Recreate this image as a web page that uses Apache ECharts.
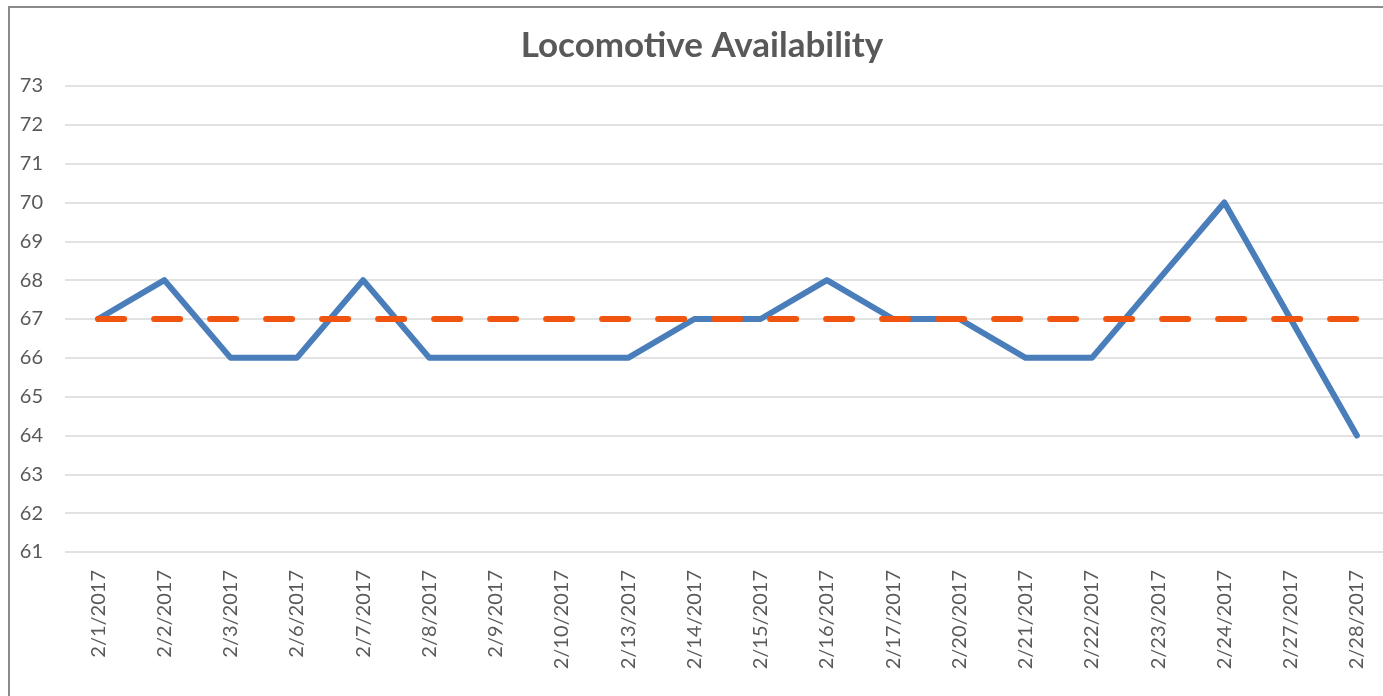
<!DOCTYPE html>
<html>
<head>
<meta charset="utf-8">
<script src="https://cdn.jsdelivr.net/npm/echarts@6/dist/echarts.min.js"></script>
<style>
  html, body { margin: 0; padding: 0; overflow: hidden; background: #fff; }
  #chart { position: absolute; left: 0; top: 0; width: 1400px; height: 696px; }
  #frame { position: absolute; left: 8px; top: 6px; width: 1400px; height: 720px;
           border: 2px solid #8a8a8a; pointer-events: none; }
</style>
</head>
<body>
<div id="chart"></div>
<div id="frame"></div>
<script>
// dates on the x axis
const dates = ['2/1/2017', '2/2/2017', '2/3/2017', '2/6/2017', '2/7/2017', '2/8/2017', '2/9/2017',
  '2/10/2017', '2/13/2017', '2/14/2017', '2/15/2017', '2/16/2017', '2/17/2017', '2/20/2017',
  '2/21/2017', '2/22/2017', '2/23/2017', '2/24/2017', '2/27/2017', '2/28/2017'];
// available locomotives per day
const available = [67, 68, 66, 66, 68, 66, 66, 66, 66, 67, 67, 68, 67, 67, 66, 66, 68, 70, 67, 64];
// target line
const target = [67, 67, 67, 67, 67, 67, 67, 67, 67, 67, 67, 67, 67, 67, 67, 67, 67, 67, 67, 67];

const yMin = 61, yMax = 73;
const textColor = '#595959';
const font = 'Lato, "Open Sans", sans-serif';

let chart = echarts.init(document.getElementById('chart'));
chart.setOption({
  animation: false,
  title: {
    text: 'Locomotive Availability',
    left: 697,
    top: 23,
    textAlign: 'center',
    textStyle: { color: textColor, fontSize: 35, fontWeight: 'bold', fontFamily: font }
  },
  grid: { left: 65, right: 10, top: 86, height: 466, containLabel: false },
  xAxis: {
    type: 'category',
    data: dates,
    boundaryGap: true,
    axisLine: { show: false },
    axisTick: { show: false },
    axisLabel: {
      rotate: 90, margin: 18, color: textColor, fontSize: 20, fontFamily: font, interval: 0
    }
  },
  yAxis: {
    type: 'value',
    min: yMin,
    max: yMax,
    interval: 1,
    axisLine: { show: false },
    axisTick: { show: false },
    axisLabel: { color: textColor, fontSize: 20, fontFamily: font, margin: 22, align: 'right' },
    splitLine: { lineStyle: { color: '#d9d9d9', width: 1.5 } }
  },
  series: [
    {
      name: 'Available',
      type: 'line',
      data: available,
      symbol: 'none',
      lineStyle: { color: '#4a7ebb', width: 6, cap: 'round', join: 'round' }
    },
    {
      name: 'Target',
      type: 'line',
      data: target,
      symbol: 'none',
      lineStyle: { color: '#f0540f', width: 6, type: [26, 30], cap: 'round' }
    }
  ]
});
</script>
</body>
</html>
